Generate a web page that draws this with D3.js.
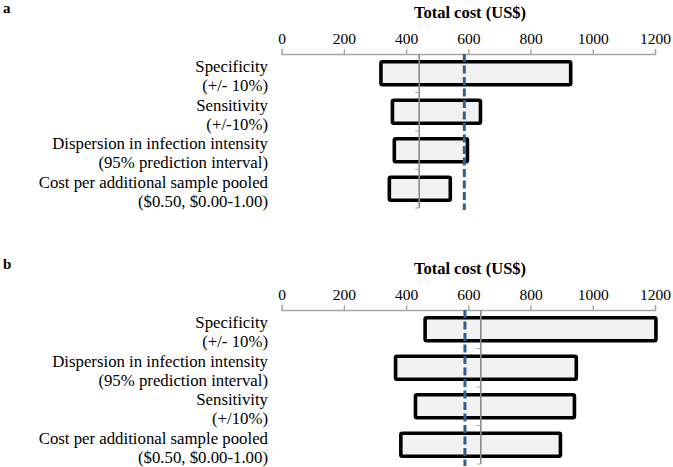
<!DOCTYPE html>
<html>
<head>
<meta charset="utf-8">
<script src="https://cdn.jsdelivr.net/npm/d3@7"></script>
<style>
  body { margin: 0; background: #fff; }
  svg { display: block; }
  text { font-family: "Liberation Serif", "Times New Roman", serif; }
</style>
</head>
<body>
<svg id="chart" width="673" height="467"></svg>
<script>
// ---- Data ----
const tickValues = [0, 200, 400, 600, 800, 1000, 1200];
const axisTitle = "Total cost (US$)";

const categoriesA = [
  ["Specificity", "(+/- 10%)"],
  ["Sensitivity", "(+/-10%)"],
  ["Dispersion in infection intensity", "(95% prediction interval)"],
  ["Cost per additional sample pooled", "($0.50, $0.00-1.00)"]
];
const lowA  = [319, 356, 362, 346];
const highA = [929, 639, 597, 542];
const baseA = 442;
const refA  = 587;

const categoriesB = [
  ["Specificity", "(+/- 10%)"],
  ["Dispersion in infection intensity", "(95% prediction interval)"],
  ["Sensitivity", "(+/10%)"],
  ["Cost per additional sample pooled", "($0.50, $0.00-1.00)"]
];
const lowB  = [461, 366, 430, 383];
const highB = [1203, 947, 941, 896];
const baseB = 640;
const refB  = 589;

// ---- Drawing ----
const svg = d3.select("#chart");
const x = d3.scaleLinear().domain([0, 1200]).range([281.7, 655]);

function panel(letter, offsetY, cats, low, high, base, ref) {
  const g = svg.append("g").attr("transform", `translate(0,${offsetY})`);
  const axisY = 54;
  const step = 38.5;

  g.append("text").attr("x", 3).attr("y", 13).attr("font-size", 15).attr("font-weight", "bold").text(letter);

  g.append("text").attr("x", 470).attr("y", 18).attr("text-anchor", "middle")
    .attr("font-size", 16.5).attr("font-weight", "bold").text(axisTitle);

  const ax = g.append("g").attr("transform", `translate(0,${axisY})`)
    .call(d3.axisTop(x).tickValues(tickValues).tickSize(5).tickPadding(5).tickFormat(d3.format("d")));
  ax.attr("font-family", null).attr("font-size", null);
  ax.select(".domain").attr("stroke", "#a6a6a6").attr("stroke-width", 1.3);
  ax.selectAll(".tick line").attr("stroke", "#a6a6a6").attr("stroke-width", 1.3);
  ax.selectAll(".tick text").attr("font-size", 15.5).attr("fill", "#000");

  // category labels
  const lab = g.append("g");
  cats.forEach((c, i) => {
    const cy = axisY + (i + 0.5) * step;
    lab.append("text").attr("x", 268).attr("y", cy - 1).attr("text-anchor", "end")
      .attr("font-size", 16.8).text(c[0]);
    lab.append("text").attr("x", 268).attr("y", cy + 18).attr("text-anchor", "end")
      .attr("font-size", 16.8).text(c[1]);
  });

  // bars
  g.selectAll("rect.bar").data(cats).enter().append("rect")
    .attr("class", "bar")
    .attr("x", (d, i) => x(low[i]))
    .attr("width", (d, i) => x(high[i]) - x(low[i]))
    .attr("y", (d, i) => axisY + (i + 0.5) * step - 11.5)
    .attr("height", 23)
    .attr("rx", 1.5)
    .attr("fill", "#f2f2f2")
    .attr("stroke", "#000")
    .attr("stroke-width", 3.6);

  // base (category) axis line
  const bx = x(base);
  g.append("line").attr("x1", bx).attr("x2", bx).attr("y1", axisY).attr("y2", axisY + 4 * step)
    .attr("stroke", "#8c8c8c").attr("stroke-width", 1.6);
  d3.range(1, cats.length + 1).forEach(k => {
    const ty = axisY + k * step;
    g.append("line").attr("x1", bx - 4).attr("x2", bx).attr("y1", ty).attr("y2", ty)
      .attr("stroke", "#a6a6a6").attr("stroke-width", 1);
  });

  // reference dashed line
  const rx = x(ref);
  g.append("line").attr("x1", rx).attr("x2", rx).attr("y1", axisY).attr("y2", axisY + 156)
    .attr("stroke", "#2f5f97").attr("stroke-width", 3).attr("stroke-dasharray", "8,3.5");
}

panel("a", 0, categoriesA, lowA, highA, baseA, refA);
panel("b", 256, categoriesB, lowB, highB, baseB, refB);
</script>
</body>
</html>
